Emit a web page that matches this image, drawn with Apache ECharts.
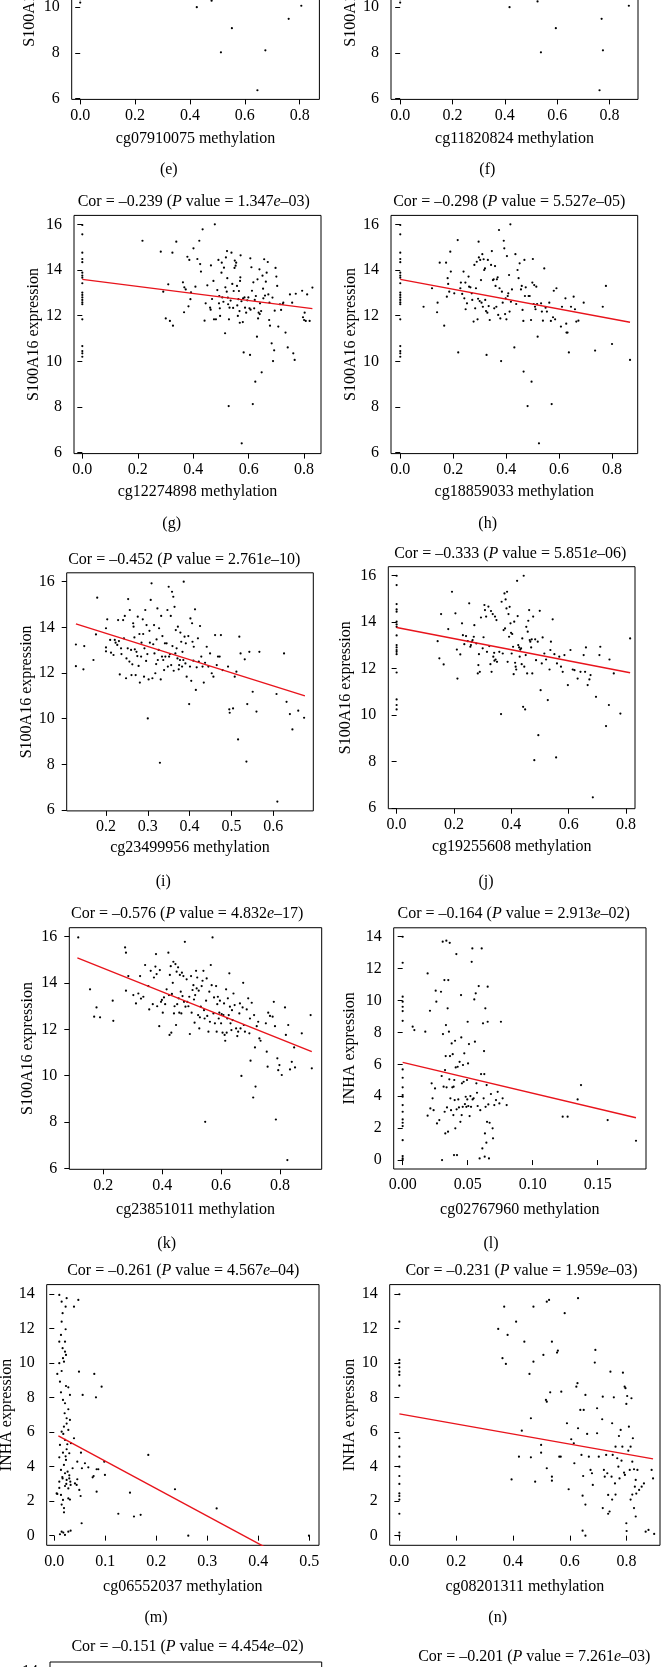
<!DOCTYPE html>
<html><head><meta charset="utf-8">
<script src="https://cdn.jsdelivr.net/npm/echarts@6/dist/echarts.min.js"></script>
<style>html,body{margin:0;padding:0;background:#fff}#c{width:662px;height:1667px}</style>
</head><body><div id="c"></div>
<script>
// ---------------- DATA ----------------
const S100A16_TICKS = [6, 8, 10, 12, 14, 16];
const INHA_TICKS = [0, 2, 4, 6, 8, 10, 12, 14];
const X_TICKS_08 = [0, 0.2, 0.4, 0.6, 0.8];
const X_TICKS_I = [0.2, 0.3, 0.4, 0.5, 0.6];
const X_TICKS_K = [0.2, 0.4, 0.6, 0.8];
const X_TICKS_L = [0, 0.05, 0.10, 0.15];
const X_TICKS_M = [0, 0.1, 0.2, 0.3, 0.4, 0.5];

const panelIds = ['e','f','g','h','i','j','k','l','m','n','o'];
const probeNames = ['cg07910075','cg11820824','cg12274898','cg18859033','cg23499956','cg19255608','cg23851011','cg02767960','cg06552037','cg08201311',''];
const geneNames = ['S100A16','S100A16','S100A16','S100A16','S100A16','S100A16','S100A16','INHA','INHA','INHA','INHA'];
// correlation titles (g..p)
const corIds = ['g','h','i','j','k','l','m','n','o','p'];
const corValues = ['–0.239','–0.298','–0.452','–0.333','–0.576','–0.164','–0.261','–0.231','–0.151','–0.201'];
const pMantissa = ['1.347','5.527','2.761','5.851','4.832','2.913','4.567','1.959','4.454','7.261'];
const pExponent = ['–03','–05','–10','–06','–17','–02','–04','–03','–02','–03'];

const ptsE = [[0,10.2],[0,10.35],[0.425,10.0],[0.479,10.28],[0.553,9.08],[0.513,8.02],[0.675,8.11],[0.646,6.36],[0.76,9.49],[0.806,10.06]];
const ptsF = [[0,10.2],[0,10.35],[0.418,10.0],[0.525,10.25],[0.595,9.08],[0.538,8.02],[0.775,8.11],[0.762,6.36],[0.77,9.49],[0.874,10.06]];

const ptsG = [[0,15.97],[0,15.56],[0,14.76],[0,14.48],[0,14.34],[0,13.88],[0,13.75],[0,13.66],[0,13.42],[0,13.01],[0,12.91],[0,12.8],[0,12.69],[0,12.58],[0,12.5],[0,11.84],[0,10.67],[0,10.45],[0,10.35],[0,10.2],
[0.217,15.28],[0.283,14.8],[0.292,13.05],[0.301,11.88],[0.31,13.37],[0.316,11.77],[0.325,14.76],[0.327,11.56],[0.339,15.24],[0.363,13.46],[0.367,12.15],[0.368,13.24],[0.373,13.15],[0.379,14.58],[0.383,12.41],[0.386,14.44],[0.39,12.72],[0.392,13.02],[0.401,14.95],[0.408,13.27],[0.415,14.48],[0.422,15.28],[0.425,14.26],[0.428,13.93],[0.434,15.78],[0.441,11.78],[0.445,12.54],[0.451,13.33],[0.461,12.35],[0.463,12.26],[0.464,14.2],[0.468,12.73],[0.473,13.52],[0.475,11.84],[0.478,16.0],[0.482,11.84],[0.487,13.12],[0.491,14.44],[0.493,12.54],[0.494,12.86],[0.496,12.32],[0.497,11.99],[0.502,13.88],[0.503,14.32],[0.505,12.8],[0.509,12.61],[0.511,14.1],[0.515,11.23],[0.516,13.24],[0.518,14.55],[0.521,13.05],[0.522,14.83],[0.523,13.64],[0.525,12.79],[0.526,12.5],[0.528,8.04],[0.529,11.84],[0.531,12.35],[0.535,12.66],[0.538,14.76],[0.541,13.39],[0.544,12.34],[0.546,13.08],[0.549,14.09],[0.55,14.41],[0.553,14.19],[0.555,14.32],[0.558,13.3],[0.559,12.45],[0.561,11.99],[0.563,12.72],[0.565,13.08],[0.567,12.2],[0.568,11.69],[0.569,13.52],[0.57,13.68],[0.571,14.64],[0.574,12.63],[0.575,6.41],[0.579,11.72],[0.58,12.76],[0.582,10.39],[0.585,12.8],[0.587,12.35],[0.591,12.13],[0.595,12.67],[0.599,12.8],[0.603,12.32],[0.605,10.28],[0.606,14.51],[0.607,12.26],[0.61,14.12],[0.612,13.09],[0.615,8.13],[0.617,13.46],[0.62,12.32],[0.622,12.69],[0.624,9.11],[0.626,12.86],[0.63,11.08],[0.632,13.59],[0.634,11.88],[0.636,12.13],[0.639,14.03],[0.64,12.07],[0.641,12.54],[0.645,12.2],[0.647,9.52],[0.65,13.75],[0.652,13.18],[0.653,12.76],[0.656,14.47],[0.659,12.88],[0.662,13.49],[0.665,13.88],[0.669,14.35],[0.671,12.93],[0.674,11.81],[0.675,12.57],[0.677,11.56],[0.683,10.79],[0.686,12.79],[0.688,10.01],[0.692,10.48],[0.694,12.22],[0.697,14.09],[0.7,13.71],[0.703,13.3],[0.707,11.52],[0.713,12.5],[0.717,12.25],[0.723,12.51],[0.725,12.57],[0.733,11.26],[0.741,10.61],[0.749,12.93],[0.757,12.57],[0.761,10.35],[0.766,10.06],[0.77,12.96],[0.793,13.09],[0.796,11.93],[0.8,11.81],[0.802,12.13],[0.806,11.77],[0.811,12.93],[0.82,11.77],[0.83,13.23]];

const ptsH = [[0,15.97],[0,15.56],[0,14.76],[0,14.48],[0,14.34],[0,13.88],[0,13.75],[0,13.66],[0,13.42],[0,13.01],[0,12.91],[0,12.8],[0,12.69],[0,12.58],[0,12.5],[0,11.84],[0,10.67],[0,10.45],[0,10.35],[0,10.2],
[0.088,12.39],[0.12,13.2],[0.139,12.15],[0.141,12.57],[0.149,14.32],[0.166,11.56],[0.173,14.32],[0.176,12.83],[0.179,13.64],[0.181,13.39],[0.185,13.05],[0.189,14.8],[0.191,13.93],[0.204,12.98],[0.217,15.31],[0.219,10.39],[0.227,13.2],[0.229,13.45],[0.234,12.95],[0.239,13.93],[0.242,12.76],[0.246,13.45],[0.247,12.28],[0.252,12.54],[0.258,13.71],[0.26,13.27],[0.265,13.24],[0.27,12.98],[0.272,12.69],[0.277,11.74],[0.28,14.22],[0.283,12.32],[0.286,13.2],[0.289,14.36],[0.292,11.84],[0.294,12.74],[0.296,15.24],[0.297,14.55],[0.3,12.64],[0.302,14.44],[0.305,13.56],[0.307,12.57],[0.31,14.69],[0.312,12.39],[0.315,14.47],[0.317,14.0],[0.32,14.07],[0.321,12.69],[0.324,12.2],[0.326,10.28],[0.329,12.13],[0.331,14.44],[0.334,12.42],[0.338,11.81],[0.343,14.22],[0.346,14.83],[0.35,13.56],[0.353,13.59],[0.355,12.32],[0.358,14.17],[0.36,13.3],[0.363,12.39],[0.365,13.59],[0.368,13.68],[0.37,12.03],[0.373,15.75],[0.375,13.2],[0.378,11.88],[0.381,10.01],[0.384,13.05],[0.387,12.57],[0.391,15.28],[0.393,14.95],[0.396,12.07],[0.398,12.76],[0.401,11.84],[0.403,14.61],[0.406,12.86],[0.408,12.98],[0.411,13.78],[0.413,12.18],[0.416,16.0],[0.418,12.61],[0.422,13.15],[0.431,10.61],[0.435,14.69],[0.438,12.51],[0.443,14.0],[0.447,13.64],[0.451,14.29],[0.456,13.15],[0.459,13.3],[0.462,12.25],[0.465,11.77],[0.466,9.55],[0.469,14.44],[0.471,12.86],[0.474,13.24],[0.481,8.04],[0.485,12.86],[0.489,12.86],[0.494,11.81],[0.496,9.11],[0.499,13.45],[0.501,14.48],[0.504,12.51],[0.506,13.34],[0.509,12.39],[0.511,12.28],[0.514,13.27],[0.517,12.51],[0.519,11.08],[0.524,6.41],[0.532,12.54],[0.535,12.18],[0.539,11.78],[0.544,14.07],[0.549,12.35],[0.554,12.18],[0.563,12.57],[0.569,11.77],[0.572,8.13],[0.577,11.93],[0.58,13.09],[0.585,11.84],[0.59,13.2],[0.607,11.52],[0.611,12.39],[0.624,12.76],[0.627,11.65],[0.628,11.26],[0.632,11.26],[0.637,10.39],[0.645,12.39],[0.655,12.83],[0.66,12.28],[0.665,11.74],[0.673,11.78],[0.693,12.57],[0.736,10.47],[0.765,12.39],[0.777,13.3],[0.8,10.76],[0.868,10.06]];

const ptsI = [[0.128,12.3],[0.128,13.25],[0.146,12.16],[0.148,13.18],[0.17,12.57],[0.179,15.3],[0.176,13.69],[0.2,13.12],[0.2,13.96],[0.203,14.35],[0.2,12.95],[0.21,13.45],[0.212,12.89],[0.218,12.79],[0.221,13.45],[0.223,13.33],[0.227,13.23],[0.229,14.32],[0.231,13.4],[0.233,11.94],[0.236,13.08],[0.237,12.83],[0.241,14.32],[0.243,13.52],[0.245,14.5],[0.248,11.77],[0.249,12.64],[0.252,13.08],[0.253,15.24],[0.256,12.5],[0.257,14.76],[0.26,13.01],[0.261,11.91],[0.263,12.38],[0.265,14.18],[0.266,14.03],[0.268,13.56],[0.269,13.04],[0.271,11.91],[0.273,12.93],[0.275,12.74],[0.276,14.47],[0.278,12.31],[0.28,13.71],[0.281,11.58],[0.284,12.72],[0.285,13.33],[0.288,14.35],[0.289,13.71],[0.291,11.84],[0.292,13.08],[0.294,14.76],[0.296,12.53],[0.297,14.1],[0.299,12.83],[0.3,10.01],[0.302,11.72],[0.304,13.85],[0.305,13.33],[0.307,15.2],[0.309,15.93],[0.311,11.77],[0.313,13.26],[0.315,14.1],[0.316,12.86],[0.318,11.99],[0.32,12.39],[0.321,13.47],[0.323,14.83],[0.324,12.57],[0.326,13.01],[0.327,13.96],[0.329,8.07],[0.331,11.72],[0.332,14.5],[0.334,12.72],[0.335,13.62],[0.337,12.57],[0.339,12.13],[0.341,13.3],[0.342,12.72],[0.345,13.3],[0.347,14.76],[0.348,12.28],[0.35,15.78],[0.351,12.72],[0.353,12.83],[0.355,14.5],[0.356,12.35],[0.358,15.56],[0.359,13.18],[0.361,15.34],[0.362,12.1],[0.364,14.9],[0.366,12.86],[0.367,13.88],[0.369,13.08],[0.371,12.64],[0.372,14.03],[0.374,12.16],[0.375,12.35],[0.377,12.57],[0.378,13.77],[0.38,13.37],[0.382,12.28],[0.383,12.93],[0.385,12.57],[0.386,16.0],[0.388,13.59],[0.39,12.42],[0.391,13.3],[0.393,11.84],[0.397,13.62],[0.399,10.64],[0.401,12.28],[0.402,14.39],[0.404,11.66],[0.406,14.18],[0.407,13.37],[0.409,12.54],[0.41,13.15],[0.413,14.79],[0.415,11.26],[0.417,12.25],[0.42,13.52],[0.422,12.5],[0.425,14.06],[0.428,12.72],[0.431,12.28],[0.434,11.58],[0.437,12.45],[0.441,13.15],[0.445,12.28],[0.449,12.86],[0.453,11.99],[0.457,11.84],[0.461,13.66],[0.465,12.35],[0.468,12.72],[0.472,12.72],[0.475,13.66],[0.479,12.13],[0.492,12.28],[0.495,10.41],[0.496,10.26],[0.504,10.45],[0.508,11.84],[0.512,12.06],[0.516,9.09],[0.519,13.59],[0.522,12.86],[0.532,12.6],[0.536,8.12],[0.538,10.64],[0.543,12.93],[0.551,11.18],[0.56,10.31],[0.567,12.93],[0.608,11.08],[0.61,6.37],[0.626,12.86],[0.632,10.74],[0.64,10.2],[0.646,9.53],[0.66,10.35],[0.674,10.04]];

const ptsJ = [[0,16.0],[0,15.6],[0,14.78],[0,14.55],[0,14.45],[0,14.02],[0,13.9],[0,13.8],[0,13.43],[0,13.01],[0,12.91],[0,12.8],[0,12.72],[0,12.62],[0,11.83],[0,10.67],[0,10.43],[0,10.24],
[0.143,13.18],[0.149,12.44],[0.155,14.35],[0.164,12.18],[0.18,13.7],[0.193,15.31],[0.205,14.38],[0.21,12.82],[0.212,11.57],[0.222,12.61],[0.228,13.95],[0.231,13.44],[0.236,13.05],[0.242,13.4],[0.248,13.18],[0.253,14.81],[0.257,12.94],[0.259,13.01],[0.262,13.16],[0.265,13.23],[0.269,13.37],[0.271,13.87],[0.278,13.08],[0.283,11.79],[0.285,12.15],[0.287,12.62],[0.29,11.86],[0.294,14.2],[0.3,12.87],[0.303,13.35],[0.306,14.74],[0.308,14.52],[0.312,14.24],[0.315,12.72],[0.32,14.67],[0.323,12.97],[0.327,12.19],[0.329,14.48],[0.331,11.86],[0.335,14.35],[0.337,12.51],[0.34,12.68],[0.341,12.34],[0.343,14.24],[0.345,12.39],[0.348,14.09],[0.35,12.29],[0.358,12.72],[0.364,10.04],[0.366,14.88],[0.37,12.65],[0.373,13.66],[0.376,15.24],[0.378,13.73],[0.38,14.98],[0.383,14.59],[0.385,15.31],[0.387,12.29],[0.39,14.35],[0.392,13.37],[0.394,14.66],[0.397,13.95],[0.399,13.54],[0.401,12.65],[0.403,13.49],[0.406,12.94],[0.408,11.76],[0.41,14.02],[0.413,12.25],[0.415,12.08],[0.417,11.96],[0.42,15.78],[0.422,14.26],[0.424,13.01],[0.427,12.91],[0.429,12.51],[0.431,12.82],[0.434,12.87],[0.436,12.19],[0.438,13.3],[0.441,10.35],[0.443,16.0],[0.445,12.08],[0.448,10.24],[0.45,12.58],[0.452,13.8],[0.455,11.79],[0.457,13.59],[0.459,14.06],[0.462,14.52],[0.464,13.23],[0.466,13.16],[0.469,12.91],[0.471,13.26],[0.473,11.79],[0.476,14.24],[0.48,8.05],[0.483,13.26],[0.486,12.36],[0.492,13.16],[0.494,9.13],[0.499,14.49],[0.502,11.07],[0.506,12.22],[0.509,13.34],[0.515,12.65],[0.521,12.39],[0.527,10.64],[0.533,11.96],[0.536,12.8],[0.538,13.16],[0.544,14.12],[0.55,12.62],[0.556,8.17],[0.559,12.22],[0.567,12.51],[0.573,12.08],[0.579,11.86],[0.585,12.58],[0.597,11.29],[0.606,12.8],[0.614,11.96],[0.62,11.93],[0.631,11.57],[0.641,11.86],[0.652,12.58],[0.657,11.86],[0.66,12.91],[0.666,11.29],[0.672,11.53],[0.676,11.72],[0.684,6.45],[0.695,10.78],[0.707,12.58],[0.71,12.94],[0.73,9.52],[0.74,10.43],[0.742,12.39],[0.757,11.79],[0.78,10.06],[0.814,13.3]];

const ptsK = [[0.115,15.97],[0.155,13.73],[0.169,12.55],[0.177,12.95],[0.189,12.52],[0.232,13.24],[0.234,12.37],[0.274,15.54],[0.277,15.31],[0.277,13.67],[0.285,14.3],[0.302,13.48],[0.311,13.12],[0.319,13.55],[0.325,14.3],[0.328,13.33],[0.336,13.41],[0.342,14.78],[0.353,13.87],[0.356,12.86],[0.361,14.53],[0.368,13.09],[0.372,14.24],[0.377,14.71],[0.379,15.25],[0.381,14.39],[0.383,13.0],[0.39,12.14],[0.392,14.56],[0.396,13.19],[0.399,13.27],[0.402,12.72],[0.406,13.38],[0.41,13.09],[0.415,13.73],[0.421,15.31],[0.423,13.48],[0.425,11.76],[0.426,14.35],[0.429,14.73],[0.431,11.86],[0.433,13.53],[0.436,14.01],[0.438,14.92],[0.44,12.69],[0.442,13.0],[0.445,14.82],[0.447,12.19],[0.449,14.49],[0.451,13.09],[0.454,14.68],[0.456,13.34],[0.458,12.72],[0.46,14.35],[0.463,13.63],[0.465,12.69],[0.467,14.45],[0.469,13.44],[0.472,14.3],[0.474,13.19],[0.477,15.78],[0.479,12.98],[0.483,14.16],[0.485,13.19],[0.489,13.0],[0.492,13.41],[0.494,11.8],[0.498,14.3],[0.5,12.72],[0.503,13.7],[0.506,13.91],[0.508,13.29],[0.51,12.29],[0.512,13.48],[0.515,14.53],[0.517,13.77],[0.519,14.24],[0.522,12.62],[0.524,13.67],[0.526,12.04],[0.528,12.52],[0.531,12.98],[0.534,13.87],[0.537,14.1],[0.54,14.53],[0.542,12.83],[0.544,12.47],[0.546,8.01],[0.549,13.24],[0.551,14.2],[0.553,12.58],[0.557,11.9],[0.56,13.63],[0.562,12.33],[0.565,14.78],[0.568,13.91],[0.571,15.97],[0.574,12.69],[0.576,13.38],[0.579,12.26],[0.583,13.87],[0.585,11.9],[0.587,13.09],[0.589,13.41],[0.592,12.47],[0.594,12.72],[0.596,13.24],[0.6,12.26],[0.602,12.66],[0.605,11.86],[0.608,12.62],[0.61,13.12],[0.612,11.76],[0.614,11.51],[0.617,13.73],[0.619,11.86],[0.621,12.47],[0.623,13.34],[0.626,12.62],[0.628,14.42],[0.63,12.98],[0.632,12.26],[0.635,11.97],[0.637,12.83],[0.639,12.4],[0.642,13.55],[0.646,13.05],[0.651,12.04],[0.655,11.71],[0.658,11.9],[0.662,12.69],[0.664,13.12],[0.666,12.04],[0.669,9.99],[0.673,12.95],[0.675,14.01],[0.677,12.19],[0.681,11.9],[0.687,12.86],[0.692,13.34],[0.696,11.83],[0.698,12.47],[0.7,10.65],[0.704,13.15],[0.709,9.06],[0.712,12.62],[0.715,11.22],[0.717,9.53],[0.721,12.14],[0.726,12.33],[0.73,11.61],[0.734,11.51],[0.752,12.26],[0.755,11.04],[0.758,10.39],[0.76,12.72],[0.766,12.58],[0.775,12.55],[0.779,13.19],[0.783,12.14],[0.786,8.11],[0.791,10.75],[0.794,10.24],[0.798,10.46],[0.806,10.03],[0.817,12.95],[0.82,11.76],[0.825,6.36],[0.828,12.19],[0.834,10.27],[0.84,10.6],[0.848,11.22],[0.851,10.36],[0.874,11.83],[0.904,12.62],[0.908,10.32]];

const ptsL = [[0,14.0],[0,12.37],[0,10.24],[0,9.93],[0,9.61],[0,9.34],[0,8.73],[0,5.68],[0,5.16],[0,4.56],[0,4.08],[0,3.97],[0,3.45],[0,3.03],[0,2.55],[0,2.34],[0,2.13],[0,1.25],[0,0.25],[0,0.1],[0,0],
[0.0077,8.36],[0.009,8.15],[0.0174,8.05],[0.0192,11.7],[0.0192,2.78],[0.021,9.36],[0.0213,3.24],[0.0223,4.81],[0.023,3.87],[0.0238,3.13],[0.0249,4.49],[0.0254,10.62],[0.0259,9.93],[0.0264,2.3],[0.0282,2.51],[0.0295,10.55],[0.03,5.27],[0.0303,0.0],[0.0308,13.69],[0.031,7.9],[0.0315,4.6],[0.0321,11.28],[0.0323,3.03],[0.0326,5.64],[0.0328,1.67],[0.0331,6.52],[0.0333,8.46],[0.0336,13.75],[0.0338,4.56],[0.0341,3.3],[0.0346,9.51],[0.0349,1.78],[0.0351,11.28],[0.0356,8.05],[0.0359,5.06],[0.0362,13.62],[0.0364,6.52],[0.0367,3.87],[0.0372,3.13],[0.0377,7.31],[0.0382,4.56],[0.0385,6.64],[0.039,2.82],[0.0392,4.6],[0.0395,0.31],[0.0397,5.02],[0.04,3.76],[0.0403,7.48],[0.0405,1.99],[0.0408,5.81],[0.0413,12.91],[0.0415,3.18],[0.0418,0.31],[0.0423,5.85],[0.0428,3.8],[0.0433,3.3],[0.0438,6.16],[0.0444,2.4],[0.0449,10.34],[0.0451,7.69],[0.0454,2.82],[0.0456,4.81],[0.0462,3.34],[0.0464,5.96],[0.0469,4.91],[0.0474,6.69],[0.0479,3.51],[0.0485,3.97],[0.049,3.34],[0.0495,5.02],[0.0497,3.8],[0.05,8.67],[0.0503,6.06],[0.0505,3.39],[0.051,7.27],[0.0515,2.76],[0.0521,4.01],[0.0526,3.34],[0.0531,12.43],[0.0536,13.27],[0.0538,3.8],[0.0546,3.87],[0.0551,10.07],[0.0556,7.42],[0.0562,10.45],[0.0567,4.81],[0.0572,4.22],[0.0577,3.39],[0.0585,10.91],[0.0592,0.1],[0.0597,3.13],[0.0603,5.39],[0.0608,13.27],[0.0613,0.73],[0.0618,8.57],[0.0623,3.87],[0.0626,6.83],[0.0628,5.39],[0.0631,0.21],[0.0633,1.67],[0.0636,9.51],[0.0638,3.34],[0.0644,1.09],[0.0646,4.7],[0.0649,2.4],[0.0654,10.87],[0.0654,8.67],[0.0659,3.49],[0.0664,0.1],[0.0669,2.34],[0.0679,4.14],[0.0692,1.99],[0.0695,1.36],[0.0705,3.45],[0.0718,3.76],[0.0731,4.28],[0.0744,3.55],[0.0756,8.67],[0.0769,3.87],[0.08,3.45],[0.1231,2.72],[0.1269,2.72],[0.1346,3.8],[0.1372,4.7],[0.1577,2.51],[0.1795,1.21]];

const ptsM = [[0.0098,13.96],[0.0144,13.57],[0.0242,13.77],[0.0222,13.28],[0.0386,13.28],[0.0471,13.67],[0.0163,12.9],[0.0144,12.41],[0.0222,11.97],[0.0098,11.25],[0.021,11.25],[0.0131,11.64],[0.0163,10.87],[0.021,10.67],[0.0229,10.48],[0.017,10.29],[0.019,10.09],[0.0098,10.0],[0.0144,9.55],[0.0059,9.38],[0.0484,9.51],[0.0784,9.38],[0.0928,8.64],[0.0817,8.02],[0.0556,8.16],[0.0111,8.93],[0.0229,8.68],[0.0275,8.6],[0.0131,8.31],[0.017,7.87],[0.0307,8.16],[0.021,7.68],[0.0275,7.33],[0.0242,6.81],[0.0307,6.71],[0.0189,6.32],[0.0144,6.03],[0.0275,6.13],[0.0386,5.65],[0.0111,5.26],[0.021,5.55],[0.0327,5.36],[0.0242,5.01],[0.017,4.81],[0.0294,4.78],[0.0098,4.54],[0.0523,4.81],[0.0229,4.39],[0.0189,4.1],[0.0451,4.29],[0.0359,3.91],[0.0601,4.2],[0.0542,3.91],[0.0667,3.96],[0.0131,3.81],[0.0261,3.71],[0.021,3.62],[0.083,3.85],[0.0863,3.85],[0.0752,3.38],[0.0771,3.46],[0.0993,3.52],[0.098,4.29],[0.1843,4.68],[0.0098,3.13],[0.0163,3.32],[0.0242,3.23],[0.0294,3.32],[0.0314,3.13],[0.0405,3.03],[0.0451,3.27],[0.0438,2.94],[0.021,2.88],[0.0275,2.74],[0.032,2.94],[0.049,2.65],[0.083,2.55],[0.1484,2.49],[0.2366,2.69],[0.0046,2.45],[0.0131,2.36],[0.017,2.07],[0.0275,2.16],[0.0516,2.3],[0.3183,1.58],
[0.0144,1.8],[0.019,1.6],[0.019,1.35],[0.0307,2.09],[0.0536,0.72],[0.1255,1.27],[0.1562,1.11],[0.1693,1.21],[0.0111,0.08],[0.0144,0.23],[0.0176,0.18],[0.0209,0.04],[0.0275,0.23],[0.032,0.29],[0.2627,0.0],[0.4993,0.0],[0.0059,2.42],[0.0098,2.77],[0.0222,4.6],[0.0255,5.3],[0.0176,5.9],[0.0242,6.5],[0.0203,7.1],[0.0294,3.5],[0.0235,3.0],[0.0157,3.4]];

const ptsN = [[0,14.0],[0,12.41],[0,10.19],[0,10.0],[0,9.76],[0,9.51],[0,9.32],[0,8.7],[0,5.65],[0,5.16],[0,4.58],[0,4.0],[0,3.46],[0,3.0],[0,2.45],[0,2.3],[0,2.09],[0,1.27],[0,0.18],[0,0.0],
[0.348,11.99],[0.369,13.28],[0.381,11.64],[0.363,10.29],[0.375,9.96],[0.411,12.41],[0.44,11.25],[0.458,9.38],[0.463,6.81],[0.472,13.28],[0.472,10.09],[0.431,6.09],[0.421,4.58],[0.463,4.54],[0.478,3.13],[0.499,5.26],[0.499,4.81],[0.507,10.48],[0.519,13.57],[0.527,13.67],[0.531,8.31],[0.537,11.25],[0.516,7.87],[0.519,7.77],[0.519,3.91],[0.537,3.42],[0.537,3.19],[0.555,10.62],[0.558,10.73],[0.563,4.58],[0.568,4.58],[0.57,8.35],[0.582,12.9],[0.59,6.52],[0.596,2.69],[0.605,5.59],[0.614,5.36],[0.616,4.2],[0.623,8.64],[0.627,8.84],[0.629,13.77],[0.629,6.23],[0.637,7.29],[0.641,4.68],[0.647,3.46],[0.649,7.29],[0.655,8.16],[0.661,5.9],[0.667,4.58],[0.673,3.81],[0.678,3.62],[0.681,2.94],[0.688,10.04],[0.69,10.77],[0.696,7.39],[0.696,5.94],[0.702,4.58],[0.714,6.75],[0.716,8.06],[0.72,3.81],[0.723,3.42],[0.728,4.68],[0.732,3.62],[0.735,2.36],[0.743,9.51],[0.747,3.42],[0.749,6.52],[0.751,4.68],[0.755,8.02],[0.759,3.03],[0.761,5.16],[0.767,4.49],[0.771,4.0],[0.773,5.78],[0.775,3.32],[0.779,6.13],[0.782,4.35],[0.785,5.16],[0.787,9.45],[0.791,3.65],[0.793,8.64],[0.794,3.52],[0.796,8.55],[0.799,7.64],[0.802,8.1],[0.806,4.93],[0.808,6.32],[0.811,3.81],[0.814,5.16],[0.817,7.97],[0.82,4.29],[0.822,5.65],[0.826,3.85],[0.829,2.84],[0.832,3.23],[0.838,3.81],[0.844,2.65],[0.853,2.84],[0.861,3.03],[0.888,3.81],[0.893,3.32],
[0.395,3.26],[0.645,2.32],[0.655,1.8],[0.645,0.29],[0.655,0.0],[0.716,1.6],[0.735,1.27],[0.74,1.4],[0.749,2.09],[0.761,2.38],[0.799,0.72],[0.8,0.27],[0.814,2.09],[0.82,2.38],[0.826,1.6],[0.832,1.11],[0.834,2.44],[0.867,0.23],[0.877,0.33],[0.897,0.1]];

// regression line end points (x, fitted y)
const fitG = [[0, 13.59], [0.83, 12.31]];
const fitH = [[0, 13.59], [0.868, 11.71]];
const fitI = [[0.128, 14.15], [0.676, 11.0]];
const fitJ = [[0, 13.77], [0.814, 11.82]];
const fitK = [[0.112, 15.09], [0.908, 11.04]];
const fitL = [[0, 6.12], [0.1795, 2.65]];
const fitM = [[0.008, 5.78], [0.497, -2.0]];
const fitN = [[0, 7.06], [0.893, 4.45]];

// ---------------- LAYOUT ----------------
const FONT = 'Liberation Serif';
const FS = 16;
const layout = {
  e: {box:[71.7,-138.8,247.7,238.2], xr:[-0.031,0.872], yr:[5.96,16.39], xt:X_TICKS_08, xd:1, xgap:31, ygap:34},
  f: {box:[391,-138.8,247,238.2], xr:[-0.035,0.909], yr:[5.96,16.39], xt:X_TICKS_08, xd:1, xgap:31, ygap:32},
  g: {box:[74,215.4,247,238.2], xr:[-0.030,0.861], yr:[5.96,16.39], xt:X_TICKS_08, xd:1, xgap:30, ygap:31},
  h: {box:[391,215.4,246.7,238.2], xr:[-0.035,0.897], yr:[5.96,16.39], xt:X_TICKS_08, xd:1, xgap:30, ygap:32},
  i: {box:[66.7,572.8,246.6,238.1], xr:[0.106,0.696], yr:[5.96,16.39], xt:X_TICKS_I, xd:1, xgap:29, ygap:31.7},
  j: {box:[388.3,566.7,246.7,242], xr:[-0.029,0.831], yr:[5.96,16.39], xt:X_TICKS_08, xd:1, xgap:30, ygap:35},
  k: {box:[69.3,927.7,252.4,241.6], xr:[0.0846,0.9416], yr:[5.96,16.39], xt:X_TICKS_K, xd:1, xgap:32.5, ygap:34},
  l: {box:[393.7,927.8,252.3,241.2], xr:[-0.0069,0.1872], yr:[-0.56,14.56], yt:INHA_TICKS, xt:X_TICKS_L, xd:2, xgap:33, ygap:35.5},
  m: {box:[46.7,1284.6,272.3,260.7], xr:[-0.0149,0.519], yr:[-0.56,14.56], yt:INHA_TICKS, xt:X_TICKS_M, xd:1, xgap:33.4, ygap:25.7},
  n: {box:[389.7,1284.6,270.3,260.7], xr:[-0.034,0.9175], yr:[-0.56,14.56], yt:INHA_TICKS, xt:X_TICKS_08, xd:1, xgap:33.4, ygap:31.7},
  o: {box:[50,1662,271.7,260.7], xr:[-0.02,0.52], yr:[-0.56,14.56], yt:INHA_TICKS, xt:[], xd:1, xgap:33.4, ygap:26}
};
const titlePos = {g:[193.8,201.7], h:[509.3,201.7], i:[184.3,559.3], j:[510.3,553.3], k:[187.2,913.3], l:[513.7,913.3], m:[183.3,1270.7], n:[521.5,1270.7], o:[187.5,1647], p:[534.3,1656.7]};
const letterPos = {e:[168.8,170], f:[487.3,170], g:[171.7,523.3], h:[487.7,523.3], i:[163.3,881.7], j:[486,881.7], k:[166.7,1243.3], l:[491,1243.3], m:[156,1618], n:[497.7,1618]};
const points = {e:ptsE, f:ptsF, g:ptsG, h:ptsH, i:ptsI, j:ptsJ, k:ptsK, l:ptsL, m:ptsM, n:ptsN, o:[]};
const fits = {g:fitG, h:fitH, i:fitI, j:fitJ, k:fitK, l:fitL, m:fitM, n:fitN};

// ---------------- BUILD ----------------
const txt = {fontFamily: FONT, fontSize: FS, color: '#000'};
const grids = [], xAxes = [], yAxes = [], series = [], titles = [];

panelIds.forEach((id, idx) => {
  const L = layout[id];
  const yt = L.yt || S100A16_TICKS;
  grids.push({left: L.box[0], top: L.box[1], width: L.box[2], height: L.box[3],
    show: true, borderColor: '#000', borderWidth: 1, backgroundColor: 'transparent',
    containLabel: false, outerBoundsMode: 'none'});
  xAxes.push({gridIndex: idx, type: 'value', min: L.xr[0], max: L.xr[1],
    name: probeNames[idx] ? probeNames[idx] + ' methylation' : '', nameLocation: 'middle', nameGap: L.xgap, nameTextStyle: txt,
    axisLine: {show: false}, splitLine: {show: false},
    axisTick: {show: true, length: 5, customValues: L.xt, lineStyle: {color: '#000', width: 1}},
    axisLabel: {show: true, customValues: L.xt, margin: 8, formatter: v => Number(v).toFixed(L.xd), ...txt}});
  yAxes.push({gridIndex: idx, type: 'value', min: L.yr[0], max: L.yr[1],
    name: geneNames[idx] + ' expression', nameLocation: 'middle', nameGap: L.ygap, nameTextStyle: txt,
    axisLine: {show: false}, splitLine: {show: false},
    axisTick: {show: true, length: 5, customValues: yt, lineStyle: {color: '#000', width: 1}},
    axisLabel: {show: true, customValues: yt, margin: 12, formatter: v => String(Math.round(v)), ...txt}});
  series.push({type: 'scatter', xAxisIndex: idx, yAxisIndex: idx, data: points[id],
    symbol: 'circle', symbolSize: 2.2, itemStyle: {color: '#000', opacity: 1}, silent: true, clip: true});
  if (fits[id]) {
    series.push({type: 'line', xAxisIndex: idx, yAxisIndex: idx, data: fits[id], showSymbol: false, symbol: 'none',
      lineStyle: {color: '#e8141c', width: 1.4}, silent: true, clip: true, z: 3});
  }
  if (letterPos[id]) {
    titles.push({text: '(' + id + ')', left: letterPos[id][0], top: letterPos[id][1], textAlign: 'center',
      textVerticalAlign: 'middle', padding: 0, textStyle: {...txt, fontWeight: 'normal'}});
  }
});

corIds.forEach((id, k) => {
  const t = '{n|Cor = ' + corValues[k] + ' (}{i|P}{n| value = ' + pMantissa[k] + '}{i|e}{n|' + pExponent[k] + ')}';
  titles.push({text: t, left: titlePos[id][0], top: titlePos[id][1], textAlign: 'center', textVerticalAlign: 'middle', padding: 0,
    textStyle: {...txt, fontWeight: 'normal', rich: {n: {...txt}, i: {...txt, fontStyle: 'italic'}}}});
});

const chart = echarts.init(document.getElementById('c'), null, {renderer: 'canvas'});
chart.setOption({animation: false, backgroundColor: '#fff', title: titles, grid: grids, xAxis: xAxes, yAxis: yAxes, series: series});
</script></body></html>
